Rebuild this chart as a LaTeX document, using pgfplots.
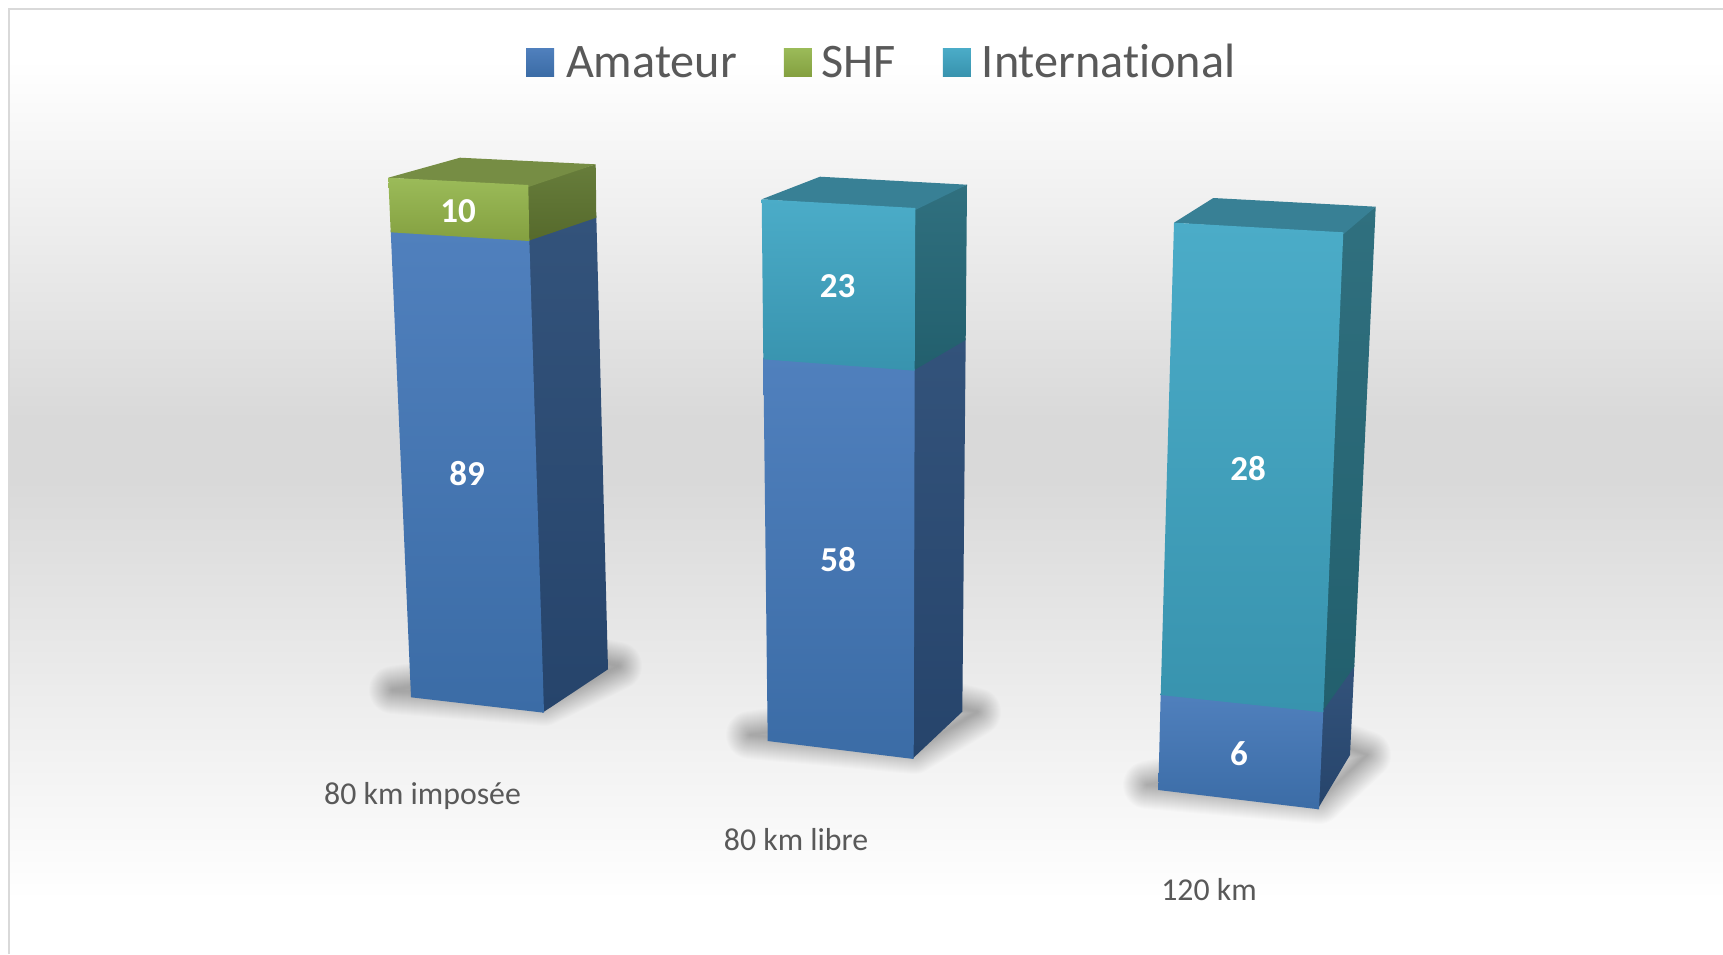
\documentclass[border=0pt]{standalone}
\usepackage{fontspec}
\usepackage{pgfplots}
\pgfplotsset{compat=1.18}
\setmainfont{Carlito}[Ligatures=NoCommon]

\definecolor{bggray}{HTML}{D9D9D9}
\definecolor{txt}{HTML}{595959}
\definecolor{edge}{HTML}{D9D9D9}
% amateur
\definecolor{blueA}{HTML}{5080BD}
\definecolor{blueB}{HTML}{3B6CA6}
\definecolor{blueSA}{HTML}{33537B}
\definecolor{blueSB}{HTML}{26446B}
% shf
\definecolor{greenA}{HTML}{9BBB59}
\definecolor{greenB}{HTML}{84A040}
\definecolor{greenSA}{HTML}{677D3B}
\definecolor{greenSB}{HTML}{566A2C}
\definecolor{greenT}{HTML}{768D44}
% international
\definecolor{tealA}{HTML}{4BACC8}
\definecolor{tealB}{HTML}{3893AE}
\definecolor{tealSA}{HTML}{30707F}
\definecolor{tealSB}{HTML}{225F6D}
\definecolor{tealT}{HTML}{388095}

% chart background, stops in the middle 50bp of the shading
\pgfdeclareverticalshading{chartbg}{100bp}{
  color(0bp)=(white);
  color(27.86bp)=(white);
  color(50.1bp)=(bggray);
  color(53.3bp)=(bggray);
  color(72.35bp)=(white);
  color(100bp)=(white)}

% face of a bar: top colour, bottom colour, corners in picture pixels
\newcommand{\barface}[3]{\addplot[forget plot,draw=none,shade,top color=#1,bottom color=#2] coordinates {#3};}
\newcommand{\flatface}[2]{\addplot[forget plot,draw=none,fill=#1] coordinates {#2};}
% soft shadow under a bar, strokes only so it falls off evenly
\newcommand{\barshadow}[1]{\pgfplotsinvokeforeach{1,2,...,24}{
  \addplot[forget plot,draw=black,fill=none,opacity=0.01,line width=##1pt,line join=round,line cap=round] coordinates {#1};}}

\begin{document}
\begin{tikzpicture}
 \begin{axis}[
   width=861.5pt,height=477pt,
   scale only axis,
   hide axis,
   xmin=0,xmax=1723,
   ymin=0,ymax=954,
   y dir=reverse,
   legend columns=-1,
   legend style={at={(axis cs:526,59.5)},anchor=base west,draw=none,fill=none,
     inner sep=0pt,outer sep=0pt,
     font=\fontsize{24.1}{28}\selectfont\color{txt},
     nodes={inner sep=0pt,text height=17.6pt,text depth=0pt},
     /tikz/column 2/.style={column sep=23.5pt},
     /tikz/column 4/.style={column sep=23.4pt}},
   legend cell align=left]

   % page, background and frame
   \addplot[forget plot,draw=none,fill=white] coordinates {(0,0) (1723,0) (1723,954) (0,954)};
   \addplot[forget plot,draw=none,shading=chartbg] coordinates {(10,10) (1723,10) (1723,954) (10,954)};
   \addplot[forget plot,draw=edge,line width=1pt] coordinates {(9,954) (9,9) (1723,9)};

   % 80 km imposee: 89 + 10
   \barshadow{(590,660) (393,690) (544,702) (618,666) (590,660)}
   \barface{blueSA}{blueSB}{(527.8,239) (596.3,215.7) (608,669.3) (542.5,712.7)}
   \barface{greenSA}{greenSB}{(526.8,185) (595.7,164.3) (596.3,217.7) (527.8,241)}
   \flatface{greenT}{(388.3,177.7) (460,157.7) (595.7,164.3) (528.3,187)}
   \barface{blueA}{blueB}{(390.7,230.3) (529.3,239) (544,712.7) (411,697.3)}
   \barface{greenA}{greenB}{(388.3,177.7) (528.3,185) (529.3,241) (390.7,232.3)}

   % 80 km libre: 58 + 23
   \barshadow{(950,705) (750,735) (914,750) (977,712) (950,705)}
   \barface{blueSA}{blueSB}{(913.2,368.7) (965.7,338) (962.3,711.7) (912.2,759)}
   \barface{tealSA}{tealSB}{(913.8,208) (967,184.7) (965.7,340) (913.2,370.7)}
   \flatface{tealT}{(761.7,199.3) (820,176.7) (967,184.7) (915.3,210)}
   \barface{blueA}{blueB}{(763.3,357.3) (914.7,368.7) (913.7,759) (767.7,741)}
   \barface{tealA}{tealB}{(761.7,199.3) (915.3,208) (914.7,370.7) (763.3,359.3)}

   % 120 km: 6 + 28
   \barshadow{(1340,745) (1147,785) (1319,800) (1367,755) (1340,745)}
   \barface{blueSA}{blueSB}{(1321.8,710.3) (1354.3,664.7) (1350,755) (1317.5,809.3)}
   \barface{tealSA}{tealSB}{(1341.8,232.3) (1375.7,206.7) (1354.3,666.7) (1321.8,712.3)}
   \flatface{tealT}{(1174,222.7) (1213.3,198) (1375.7,206.7) (1343.3,234.3)}
   \barface{blueA}{blueB}{(1160.7,693) (1323.3,710.3) (1319,809.3) (1158.3,790)}
   \barface{tealA}{tealB}{(1174,222.7) (1343.3,232.3) (1323.3,712.3) (1160.7,695)}

   % values on the bars
   \addplot[forget plot,draw=none,mark=none,point meta=explicit symbolic,
     nodes near coords,
     nodes near coords style={anchor=base,inner sep=0pt,text=white,
       font=\fontsize{17.5}{20}\selectfont\bfseries}]
     coordinates {
       (467,485.5) [89]
       (458,222.3) [10]
       (838,571.5) [58]
       (837.7,297.7) [23]
       (1239,765) [6]
       (1248,480) [28]
     };

   % category names
   \addplot[forget plot,draw=none,mark=none,point meta=explicit symbolic,
     nodes near coords,
     nodes near coords style={anchor=base,inner sep=0pt,text=txt,
       font=\fontsize{15.9}{20}\selectfont}]
     coordinates {
       (422.5,804) [80 km imposée]
       (796,850) [80 km libre]
       (1209,900.5) [120 km]
     };

   % legend
   \addlegendimage{legend image code/.code={\shade[draw=none,top color=blueA,bottom color=blueB] (0pt,-8.25pt) rectangle (14pt,5.75pt);}}
   \addlegendentry{\hspace*{6pt}Amateur}
   \addlegendimage{legend image code/.code={\shade[draw=none,top color=greenA,bottom color=greenB] (0pt,-8.25pt) rectangle (14pt,5.75pt);}}
   \addlegendentry{\hspace*{5pt}SHF}
   \addlegendimage{legend image code/.code={\shade[draw=none,top color=tealA,bottom color=tealB] (0pt,-8.25pt) rectangle (14pt,5.75pt);}}
   \addlegendentry{\hspace*{5.5pt}International}
 \end{axis}
\end{tikzpicture}
\end{document}
